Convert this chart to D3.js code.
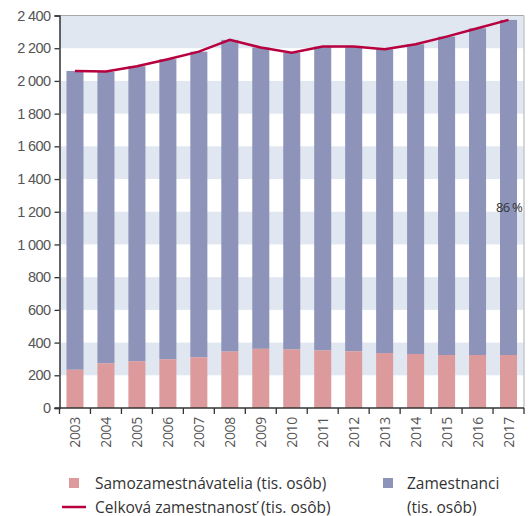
<!DOCTYPE html>
<html>
<head>
<meta charset="utf-8">
<script src="https://cdn.jsdelivr.net/npm/d3@7"></script>
<style>
  body { margin: 0; background: #fff; }
  svg { font-family: "Open Sans", "DejaVu Sans", sans-serif; }
</style>
</head>
<body>
<div id="chart"></div>
<script>
// data (tis. osôb)
var years = ["2003", "2004", "2005", "2006", "2007", "2008", "2009", "2010",
             "2011", "2012", "2013", "2014", "2015", "2016", "2017"];
var selfEmployed = [234, 273, 286, 298, 310, 345, 362, 358, 352, 347, 336, 330, 324, 324, 324];
var totalEmployment = [2061, 2057, 2090, 2133, 2179, 2251, 2204, 2173, 2210, 2210, 2194, 2224, 2271, 2322, 2373];
var yTicks = [0, 200, 400, 600, 800, 1000, 1200, 1400, 1600, 1800, 2000, 2200, 2400];

var width = 529, height = 516;
var margin = {top: 15.5, right: 5, bottom: 108, left: 59.5};

var svg = d3.select("#chart").append("svg")
    .attr("width", width)
    .attr("height", height);

var x = d3.scaleBand()
    .domain(years)
    .range([margin.left, width - margin.right])
    .paddingInner(0.45)
    .paddingOuter(0.225);

var y = d3.scaleLinear()
    .domain([0, 2400])
    .range([height - margin.bottom, margin.top]);

// background stripes
var stripes = d3.range(0, 2400, 200).filter(function (v) { return (v / 200) % 2 == 1; });
svg.selectAll(".stripe")
    .data(stripes)
    .enter().append("rect")
    .attr("class", "stripe")
    .attr("x", margin.left)
    .attr("width", width - margin.right - margin.left)
    .attr("y", function (d) { return y(d + 200); })
    .attr("height", function (d) { return y(d) - y(d + 200); })
    .attr("fill", "#e1e7f1");

// frame top / right
svg.append("line")
    .attr("x1", margin.left).attr("x2", width - margin.right)
    .attr("y1", y(2400)).attr("y2", y(2400))
    .attr("stroke", "#a8a8a8").attr("stroke-width", 1);
svg.append("line")
    .attr("x1", width - margin.right).attr("x2", width - margin.right)
    .attr("y1", y(2400)).attr("y2", y(0))
    .attr("stroke", "#c8c8c8").attr("stroke-width", 1.5);

// stacked bars
var rows = years.map(function (yr, i) {
    return {year: yr, self: selfEmployed[i], total: totalEmployment[i]};
});

svg.selectAll(".emp")
    .data(rows)
    .enter().append("rect")
    .attr("class", "emp")
    .attr("x", function (d) { return x(d.year); })
    .attr("width", x.bandwidth())
    .attr("y", function (d) { return y(d.total); })
    .attr("height", function (d) { return y(d.self) - y(d.total); })
    .attr("fill", "#8d93b9");

svg.selectAll(".self")
    .data(rows)
    .enter().append("rect")
    .attr("class", "self")
    .attr("x", function (d) { return x(d.year); })
    .attr("width", x.bandwidth())
    .attr("y", function (d) { return y(d.self); })
    .attr("height", function (d) { return y(0) - y(d.self); })
    .attr("fill", "#dc9a9c");

// total employment line
var line = d3.line()
    .x(function (d) { return x(d.year) + x.bandwidth() / 2; })
    .y(function (d) { return y(d.total); });

svg.append("path")
    .datum(rows)
    .attr("d", line)
    .attr("fill", "none")
    .attr("stroke", "#b8003f")
    .attr("stroke-width", 2.5);

// share label on last bar
var last = rows[rows.length - 1];
svg.append("text")
    .attr("x", x(last.year) + x.bandwidth() / 2 + 0.5)
    .attr("y", y(1200) + 0.5)
    .attr("text-anchor", "middle")
    .attr("font-size", 13)
    .attr("letter-spacing", -0.7)
    .attr("fill", "#333")
    .text("86 %");

// y axis
var fmt = function (v) { return d3.format(",")(v).replace(",", " "); };
var yAxis = svg.append("g")
    .attr("transform", "translate(" + margin.left + ",0)")
    .call(d3.axisLeft(y).tickValues(yTicks).tickFormat(fmt).tickSize(5).tickPadding(4));
yAxis.select(".domain").attr("stroke", "#333").attr("stroke-width", 1.5);
yAxis.selectAll(".tick line").attr("stroke", "#333").attr("stroke-width", 1.3);
yAxis.selectAll("text")
    .attr("font-size", 14.5)
    .attr("letter-spacing", -0.6)
    .attr("fill", "#555");

// x axis: ticks at band boundaries
var xAxis = svg.append("g")
    .attr("transform", "translate(0," + y(0) + ")");
xAxis.append("line")
    .attr("x1", margin.left - 5).attr("x2", width - margin.right)
    .attr("stroke", "#333").attr("stroke-width", 1.5);
var step = x.step();
var bounds = years.map(function (yr) { return x(yr) - x.paddingInner() * step / 2; })
    .concat([width - margin.right]);
xAxis.selectAll(".xt")
    .data(bounds)
    .enter().append("line")
    .attr("class", "xt")
    .attr("x1", function (d) { return d; })
    .attr("x2", function (d) { return d; })
    .attr("y1", 0).attr("y2", 6)
    .attr("stroke", "#333").attr("stroke-width", 1.3);
xAxis.selectAll(".xl")
    .data(years)
    .enter().append("text")
    .attr("class", "xl")
    .attr("transform", function (d) {
        return "translate(" + (x(d) + x.bandwidth() / 2 + 5) + ",9) rotate(-90)";
    })
    .attr("text-anchor", "end")
    .attr("font-size", 14)
    .attr("letter-spacing", -0.3)
    .attr("fill", "#555")
    .text(function (d) { return d; });

// legend
var legend = svg.append("g").attr("font-size", 15.5).attr("fill", "#333");
legend.append("rect")
    .attr("x", 69).attr("y", 478).attr("width", 10).attr("height", 10)
    .attr("fill", "#dc9a9c");
legend.append("text").attr("x", 95).attr("y", 489)
    .text("Samozamestnávatelia (tis. osôb)");
legend.append("line")
    .attr("x1", 62).attr("x2", 86).attr("y1", 507).attr("y2", 507)
    .attr("stroke", "#b8003f").attr("stroke-width", 2.5);
legend.append("text").attr("x", 95).attr("y", 512.5)
    .text("Celková zamestnanosť (tis. osôb)");
legend.append("rect")
    .attr("x", 383).attr("y", 478).attr("width", 10).attr("height", 10)
    .attr("fill", "#8d93b9");
legend.append("text").attr("x", 407).attr("y", 489)
    .text("Zamestnanci");
legend.append("text").attr("x", 407).attr("y", 512.5)
    .text("(tis. osôb)");
</script>
</body>
</html>
